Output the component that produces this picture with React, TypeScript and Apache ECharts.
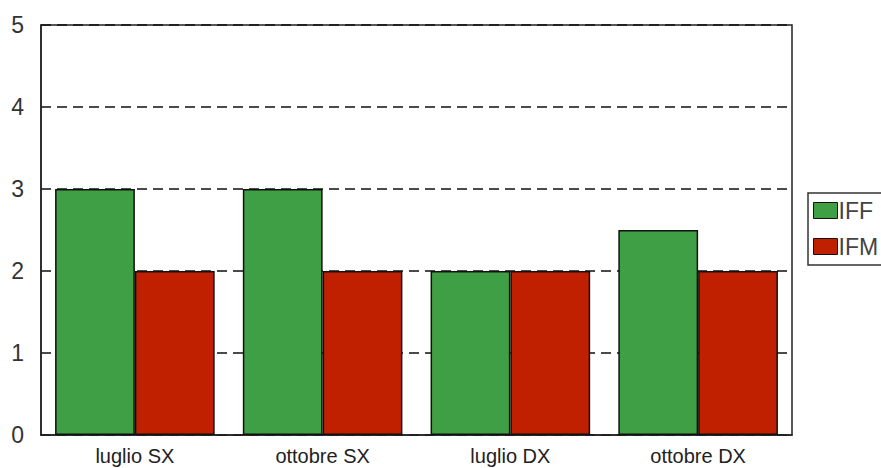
import React, { useEffect, useRef } from "react";
import * as echarts from "echarts";

const categories = ["luglio SX", "ottobre SX", "luglio DX", "ottobre DX"];
const iffValues = [3, 3, 2, 2.5];
const ifmValues = [2, 2, 2, 2];
const yTicks = [0, 1, 2, 3, 4, 5];

export default function App() {
  const ref = useRef<HTMLDivElement>(null);
  useEffect(() => {
    if (!ref.current) return;
    const chart = echarts.init(ref.current, null, { renderer: "svg" });
    chart.setOption({
      animation: false,
      backgroundColor: "#ffffff",
      textStyle: { fontFamily: "Liberation Sans, Arial, sans-serif" },
      grid: {
        left: 41,
        top: 25,
        width: 751,
        height: 410,
        show: true,
        borderColor: "#222",
        borderWidth: 1.5,
        containLabel: false,
      },
      legend: {
        orient: "vertical",
        left: 808,
        top: 193,
        itemWidth: 24,
        itemHeight: 16,
        itemGap: 13,
        padding: [6, 10, 7, 5],
        borderColor: "#333",
        borderWidth: 1.5,
        icon: "rect",
        itemStyle: { borderColor: "#111", borderWidth: 1 },
        textStyle: { fontSize: 23, lineHeight: 23, color: "#444", padding: [0, 0, 0, -4] },
        data: ["IFF", "IFM"],
      },
      xAxis: {
        type: "category",
        data: categories,
        axisTick: { show: false },
        axisLine: { show: true, lineStyle: { color: "#222", width: 1.5 } },
        axisLabel: { fontSize: 20, color: "#222", margin: 11 },
      },
      yAxis: {
        type: "value",
        min: yTicks[0],
        max: yTicks[yTicks.length - 1],
        interval: 1,
        axisLine: { show: true, lineStyle: { color: "#222", width: 1.5 } },
        axisTick: { show: false },
        axisLabel: { fontSize: 23, color: "#333", margin: 17 },
        splitLine: {
          show: true,
          lineStyle: { color: "#111", type: [10, 6], width: 1.5 },
        },
      },
      series: [
        {
          name: "IFF",
          type: "bar",
          data: iffValues,
          barGap: "0%",
          barCategoryGap: "15%",
          itemStyle: { color: "#3f9f45", borderColor: "#111", borderWidth: 1.5 },
        },
        {
          name: "IFM",
          type: "bar",
          data: ifmValues,
          barGap: "0%",
          barCategoryGap: "15%",
          itemStyle: { color: "#c02000", borderColor: "#111", borderWidth: 1.5 },
        },
      ],
    });
    return () => chart.dispose();
  }, []);
  return (
    <div
      ref={ref}
      style={{ position: "fixed", left: 0, top: 0, width: 881, height: 468, overflow: "hidden" }}
    />
  );
}
